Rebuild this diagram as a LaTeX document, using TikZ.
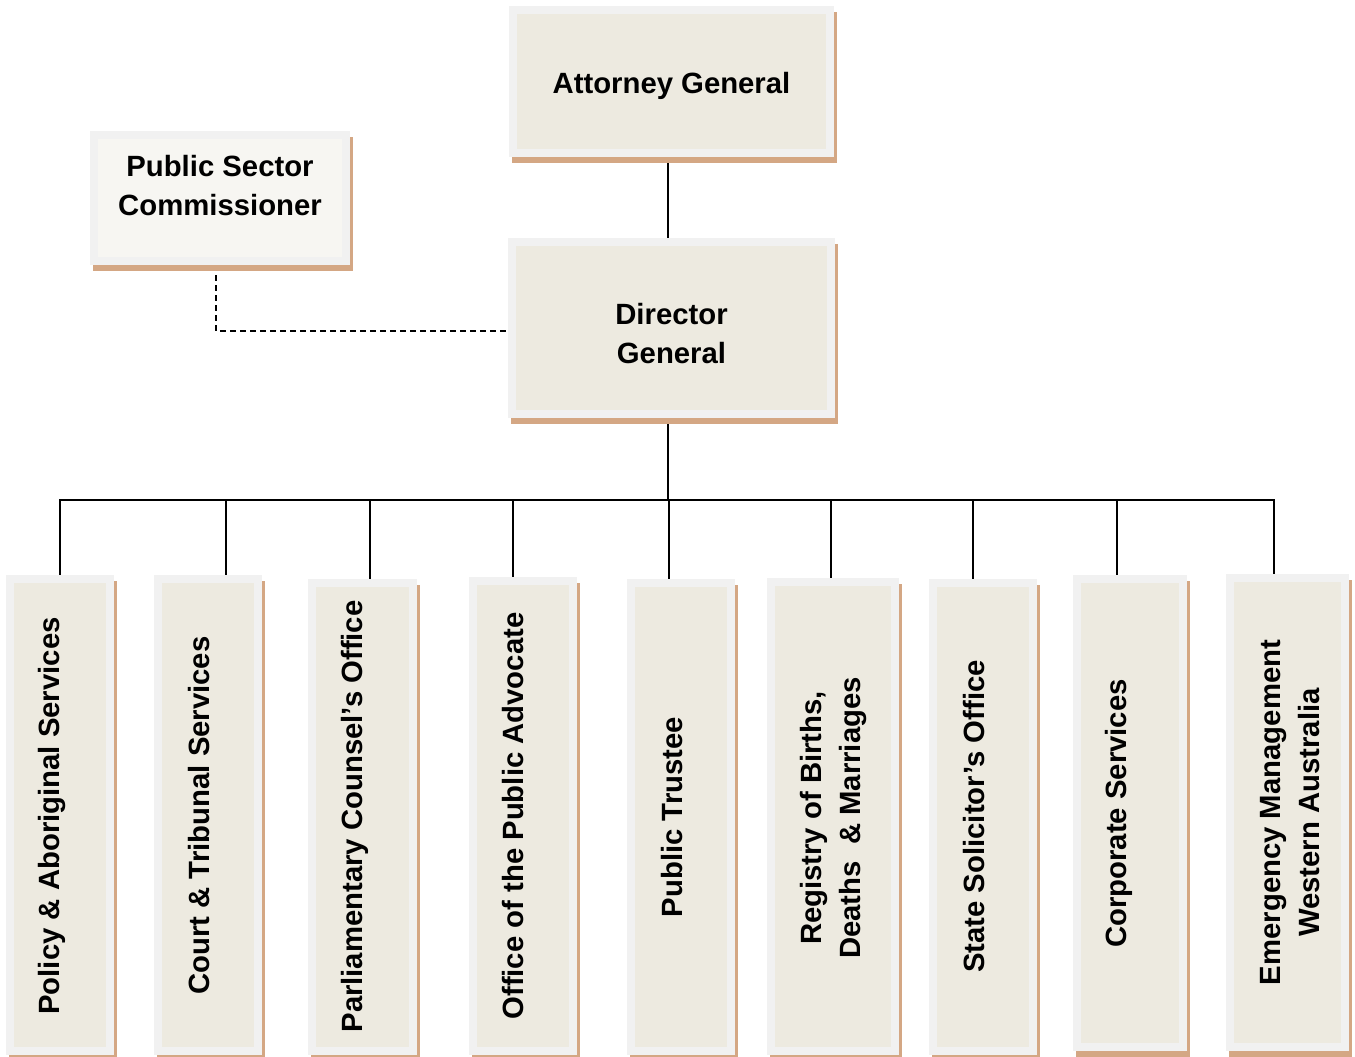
\documentclass[tikz,border=0pt]{standalone}
\usepackage{fontspec}
\setmainfont{Liberation Sans}
\usetikzlibrary{backgrounds}

\definecolor{framegray}{HTML}{F1F1F1}
\definecolor{boxbeige}{HTML}{EDEAE0}
\definecolor{boxlight}{HTML}{F7F6F2}
\definecolor{shadowtan}{HTML}{D4A784}

\tikzset{
  orgbox/.style={draw=framegray, line width=8pt, fill=boxbeige,
    inner sep=0pt, outer sep=4pt,
    preaction={fill=shadowtan, draw=shadowtan, line width=8pt,
      transform canvas={xshift=3pt, yshift=-6pt}}},
  label/.style={font=\fontsize{29.3}{39}\selectfont\bfseries, align=center,
    inner sep=0pt},
  vlabel/.style={label, rotate=90},
  link/.style={line width=1.8pt, black},
  dotted link/.style={line width=1.5pt, black, dash pattern=on 6pt off 4pt}
}

\begin{document}
\begin{tikzpicture}[x=1pt, y=-1pt]
\useasboundingbox (0,0) rectangle (1355,1057);

% top of the hierarchy
\node[orgbox, minimum width=317pt, minimum height=143pt] (ag) at (671.5,81.5) {};
\node[label, anchor=base] (agt) at (671.5,93) {Attorney General};

\node[orgbox, fill=boxlight, minimum width=252pt, minimum height=126pt] (psc) at (220,198) {};
\node[label] (psct) at (220,185.5) {Public Sector\\Commissioner};

\node[orgbox, minimum width=319pt, minimum height=172pt] (dg) at (671.5,328) {};
\node[label] (dgt) at (671.5,334) {Director\\General};

% business units
\node[orgbox, minimum width=100pt, minimum height=472pt] (b1) at (60,815) {};
\node[vlabel] (b1t) at (51.5,816) {Policy \& Aboriginal Services};

\node[orgbox, minimum width=100pt, minimum height=472pt] (b2) at (208,815) {};
\node[vlabel] (b2t) at (199.5,815.5) {Court \& Tribunal Services};

\node[orgbox, minimum width=101pt, minimum height=468pt] (b3) at (362.5,817) {};
\node[vlabel] (b3t) at (355,816.5) {Parliamentary Counsel’s Office};

\node[orgbox, minimum width=100pt, minimum height=470pt] (b4) at (523,816) {};
\node[vlabel] (b4t) at (513.5,816) {Office of the Public Advocate};

\node[orgbox, minimum width=100pt, minimum height=468pt] (b5) at (681,817) {};
\node[vlabel] (b5t) at (672.5,817) {Public Trustee};

\node[orgbox, minimum width=124pt, minimum height=469pt] (b6) at (833,816.5) {};
\node[vlabel] (b6t) at (833,818) {Registry of Births,\\Deaths \ \& Marriages};

\node[orgbox, minimum width=100pt, minimum height=468pt] (b7) at (983,817) {};
\node[vlabel] (b7t) at (974.5,816.5) {State Solicitor’s Office};

\node[orgbox, minimum width=106pt, minimum height=468pt] (b8) at (1130,813) {};
\node[vlabel] (b8t) at (1119,813.5) {Corporate Services};

\node[orgbox, minimum width=115pt, minimum height=469pt] (b9) at (1287.5,812.5) {};
\node[vlabel] (b9t) at (1290,812.5) {Emergency Management\\Western Australia};

% connectors, kept behind the boxes
\begin{scope}[on background layer]
  \coordinate (spine) at (668,500);
  \coordinate (t1) at (60,500);
  \coordinate (t2) at (226,500);
  \coordinate (t3) at (370,500);
  \coordinate (t4) at (513,500);
  \coordinate (t5) at (669,500);
  \coordinate (t6) at (831,500);
  \coordinate (t7) at (973,500);
  \coordinate (t8) at (1117,500);
  \coordinate (t9) at (1274,500);

  \draw[link] (spine |- ag.south) -- (spine |- dg.north);
  \draw[link] (spine |- dg.south) -- (spine);
  \draw[link] ([xshift=-0.9pt]t1) -- ([xshift=0.9pt]t9);
  \foreach \i in {1,...,9}
    \draw[link] (t\i) -- (t\i |- b\i.north);

  \coordinate (dash) at (216,331);
  \draw[dotted link] (dash |- psc.south) -- (dash) -- (dash -| dg.west);
\end{scope}
\end{tikzpicture}
\end{document}
